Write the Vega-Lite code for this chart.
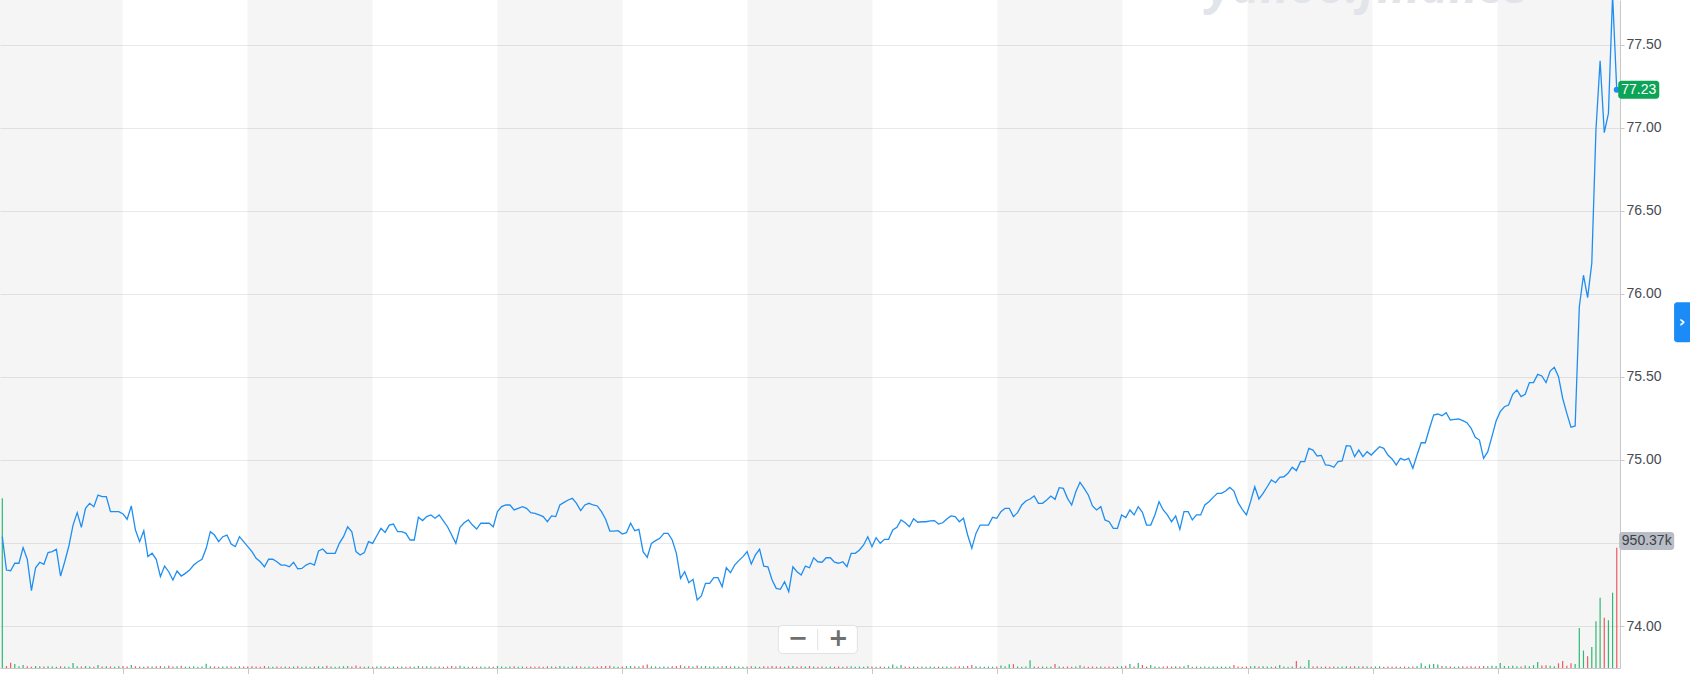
{
  "$schema": "https://vega.github.io/schema/vega-lite/v6.json",
  "width": 1620,
  "height": 668,
  "autosize": {"type": "none"},
  "padding": {"left": 0, "top": 0, "right": 70, "bottom": 6},
  "background": "white",
  "config": {"view": {"stroke": null}, "font": "Liberation Sans"},
  "datasets": {
    "bands": [
      {"a": -0.553, "b": 28.89}, {"a": 58.93, "b": 88.97}, {"a": 119.01, "b": 149.05},
      {"a": 179.09, "b": 209.13}, {"a": 239.17, "b": 269.21}, {"a": 299.26, "b": 329.30},
      {"a": 359.34, "b": 388.78}
    ],
    "px": [
      {"i":0,"p":74.538,"v":1340,"u":1},{"i":1,"p":74.337,"v":16,"u":0},{"i":2,"p":74.333,"v":42,"u":0},{"i":3,"p":74.378,"v":32,"u":1},{"i":4,"p":74.378,"v":14,"u":1},
      {"i":5,"p":74.472,"v":24,"u":1},{"i":6,"p":74.402,"v":14,"u":0},{"i":7,"p":74.213,"v":10,"u":0},{"i":8,"p":74.351,"v":16,"u":1},{"i":9,"p":74.384,"v":14,"u":1},
      {"i":10,"p":74.372,"v":12,"u":0},{"i":11,"p":74.442,"v":14,"u":1},{"i":12,"p":74.448,"v":12,"u":1},{"i":13,"p":74.462,"v":10,"u":1},{"i":14,"p":74.301,"v":14,"u":0},
      {"i":15,"p":74.387,"v":12,"u":1},{"i":16,"p":74.482,"v":10,"u":1},{"i":17,"p":74.608,"v":40,"u":1},{"i":18,"p":74.683,"v":14,"u":1},{"i":19,"p":74.594,"v":12,"u":0},
      {"i":20,"p":74.709,"v":16,"u":1},{"i":21,"p":74.739,"v":12,"u":1},{"i":22,"p":74.719,"v":10,"u":0},{"i":23,"p":74.789,"v":24,"u":1},{"i":24,"p":74.779,"v":12,"u":0},
      {"i":25,"p":74.779,"v":14,"u":1},{"i":26,"p":74.689,"v":12,"u":0},{"i":27,"p":74.689,"v":10,"u":1},{"i":28,"p":74.689,"v":14,"u":1},{"i":29,"p":74.675,"v":16,"u":0},
      {"i":30,"p":74.643,"v":12,"u":0},{"i":31,"p":74.723,"v":24,"u":1},{"i":32,"p":74.578,"v":14,"u":0},{"i":33,"p":74.508,"v":12,"u":0},{"i":34,"p":74.574,"v":10,"u":1},
      {"i":35,"p":74.418,"v":14,"u":0},{"i":36,"p":74.438,"v":12,"u":1},{"i":37,"p":74.402,"v":14,"u":0},{"i":38,"p":74.297,"v":16,"u":0},{"i":39,"p":74.361,"v":12,"u":1},
      {"i":40,"p":74.327,"v":18,"u":0},{"i":41,"p":74.277,"v":12,"u":0},{"i":42,"p":74.331,"v":14,"u":1},{"i":43,"p":74.301,"v":18,"u":0},{"i":44,"p":74.317,"v":10,"u":1},
      {"i":45,"p":74.337,"v":12,"u":1},{"i":46,"p":74.367,"v":14,"u":1},{"i":47,"p":74.387,"v":10,"u":1},{"i":48,"p":74.402,"v":12,"u":1},{"i":49,"p":74.468,"v":34,"u":1},
      {"i":50,"p":74.568,"v":14,"u":1},{"i":51,"p":74.548,"v":12,"u":0},{"i":52,"p":74.508,"v":10,"u":0},{"i":53,"p":74.538,"v":12,"u":1},{"i":54,"p":74.548,"v":14,"u":1},
      {"i":55,"p":74.494,"v":12,"u":0},{"i":56,"p":74.478,"v":10,"u":0},{"i":57,"p":74.538,"v":14,"u":1},{"i":58,"p":74.508,"v":12,"u":0},{"i":59,"p":74.478,"v":12,"u":0},
      {"i":60,"p":74.448,"v":14,"u":0},{"i":61,"p":74.408,"v":12,"u":0},{"i":62,"p":74.387,"v":10,"u":0},{"i":63,"p":74.357,"v":16,"u":0},{"i":64,"p":74.402,"v":12,"u":1},
      {"i":65,"p":74.402,"v":10,"u":1},{"i":66,"p":74.387,"v":12,"u":0},{"i":67,"p":74.367,"v":10,"u":0},{"i":68,"p":74.367,"v":12,"u":1},{"i":69,"p":74.357,"v":10,"u":0},
      {"i":70,"p":74.384,"v":12,"u":1},{"i":71,"p":74.345,"v":14,"u":0},{"i":72,"p":74.347,"v":10,"u":1},{"i":73,"p":74.367,"v":12,"u":1},{"i":74,"p":74.378,"v":10,"u":1},
      {"i":75,"p":74.367,"v":12,"u":0},{"i":76,"p":74.452,"v":14,"u":1},{"i":77,"p":74.464,"v":12,"u":1},{"i":78,"p":74.438,"v":18,"u":0},{"i":79,"p":74.438,"v":12,"u":1},
      {"i":80,"p":74.438,"v":10,"u":1},{"i":81,"p":74.498,"v":12,"u":1},{"i":82,"p":74.538,"v":14,"u":1},{"i":83,"p":74.598,"v":16,"u":1},{"i":84,"p":74.568,"v":12,"u":0},
      {"i":85,"p":74.448,"v":20,"u":0},{"i":86,"p":74.428,"v":12,"u":0},{"i":87,"p":74.442,"v":10,"u":1},{"i":88,"p":74.508,"v":12,"u":1},{"i":89,"p":74.498,"v":10,"u":0},
      {"i":90,"p":74.544,"v":12,"u":1},{"i":91,"p":74.588,"v":14,"u":1},{"i":92,"p":74.564,"v":12,"u":0},{"i":93,"p":74.608,"v":10,"u":1},{"i":94,"p":74.614,"v":12,"u":1},
      {"i":95,"p":74.568,"v":10,"u":0},{"i":96,"p":74.568,"v":12,"u":1},{"i":97,"p":74.558,"v":10,"u":0},{"i":98,"p":74.518,"v":12,"u":0},{"i":99,"p":74.518,"v":10,"u":1},
      {"i":100,"p":74.655,"v":16,"u":1},{"i":101,"p":74.635,"v":12,"u":0},{"i":102,"p":74.659,"v":14,"u":1},{"i":103,"p":74.669,"v":12,"u":1},{"i":104,"p":74.649,"v":10,"u":0},
      {"i":105,"p":74.669,"v":12,"u":1},{"i":106,"p":74.633,"v":10,"u":0},{"i":107,"p":74.598,"v":12,"u":0},{"i":108,"p":74.548,"v":16,"u":0},{"i":109,"p":74.498,"v":12,"u":0},
      {"i":110,"p":74.594,"v":18,"u":1},{"i":111,"p":74.622,"v":12,"u":1},{"i":112,"p":74.639,"v":10,"u":1},{"i":113,"p":74.608,"v":12,"u":0},{"i":114,"p":74.584,"v":10,"u":0},
      {"i":115,"p":74.619,"v":12,"u":1},{"i":116,"p":74.619,"v":10,"u":1},{"i":117,"p":74.619,"v":12,"u":1},{"i":118,"p":74.598,"v":10,"u":0},{"i":119,"p":74.689,"v":16,"u":1},
      {"i":120,"p":74.719,"v":12,"u":1},{"i":121,"p":74.729,"v":10,"u":1},{"i":122,"p":74.729,"v":12,"u":1},{"i":123,"p":74.699,"v":14,"u":0},{"i":124,"p":74.709,"v":10,"u":1},
      {"i":125,"p":74.719,"v":12,"u":1},{"i":126,"p":74.709,"v":10,"u":0},{"i":127,"p":74.683,"v":12,"u":0},{"i":128,"p":74.679,"v":10,"u":0},{"i":129,"p":74.669,"v":12,"u":0},
      {"i":130,"p":74.659,"v":10,"u":0},{"i":131,"p":74.628,"v":14,"u":0},{"i":132,"p":74.663,"v":12,"u":1},{"i":133,"p":74.659,"v":10,"u":0},{"i":134,"p":74.729,"v":16,"u":1},
      {"i":135,"p":74.745,"v":12,"u":1},{"i":136,"p":74.759,"v":10,"u":1},{"i":137,"p":74.769,"v":12,"u":1},{"i":138,"p":74.739,"v":14,"u":0},{"i":139,"p":74.695,"v":12,"u":0},
      {"i":140,"p":74.729,"v":10,"u":1},{"i":141,"p":74.739,"v":12,"u":1},{"i":142,"p":74.729,"v":10,"u":0},{"i":143,"p":74.723,"v":12,"u":0},{"i":144,"p":74.689,"v":14,"u":0},
      {"i":145,"p":74.643,"v":16,"u":0},{"i":146,"p":74.572,"v":18,"u":0},{"i":147,"p":74.572,"v":12,"u":1},{"i":148,"p":74.574,"v":10,"u":1},{"i":149,"p":74.554,"v":12,"u":0},
      {"i":150,"p":74.562,"v":14,"u":1},{"i":151,"p":74.619,"v":16,"u":1},{"i":152,"p":74.574,"v":14,"u":0},{"i":153,"p":74.582,"v":12,"u":1},{"i":154,"p":74.448,"v":20,"u":0},
      {"i":155,"p":74.414,"v":28,"u":0},{"i":156,"p":74.498,"v":14,"u":1},{"i":157,"p":74.514,"v":12,"u":1},{"i":158,"p":74.528,"v":10,"u":1},{"i":159,"p":74.558,"v":12,"u":1},
      {"i":160,"p":74.558,"v":10,"u":1},{"i":161,"p":74.518,"v":14,"u":0},{"i":162,"p":74.438,"v":16,"u":0},{"i":163,"p":74.287,"v":22,"u":0},{"i":164,"p":74.327,"v":14,"u":1},
      {"i":165,"p":74.261,"v":16,"u":0},{"i":166,"p":74.281,"v":12,"u":1},{"i":167,"p":74.157,"v":20,"u":0},{"i":168,"p":74.181,"v":14,"u":1},{"i":169,"p":74.257,"v":16,"u":1},
      {"i":170,"p":74.257,"v":12,"u":1},{"i":171,"p":74.291,"v":14,"u":1},{"i":172,"p":74.291,"v":12,"u":1},{"i":173,"p":74.237,"v":14,"u":0},{"i":174,"p":74.351,"v":16,"u":1},
      {"i":175,"p":74.321,"v":12,"u":0},{"i":176,"p":74.367,"v":14,"u":1},{"i":177,"p":74.394,"v":12,"u":1},{"i":178,"p":74.418,"v":10,"u":1},{"i":179,"p":74.448,"v":12,"u":1},
      {"i":180,"p":74.373,"v":14,"u":0},{"i":181,"p":74.428,"v":12,"u":1},{"i":182,"p":74.462,"v":10,"u":1},{"i":183,"p":74.361,"v":14,"u":0},{"i":184,"p":74.357,"v":12,"u":0},
      {"i":185,"p":74.277,"v":16,"u":0},{"i":186,"p":74.227,"v":14,"u":0},{"i":187,"p":74.221,"v":12,"u":0},{"i":188,"p":74.267,"v":10,"u":1},{"i":189,"p":74.207,"v":14,"u":0},
      {"i":190,"p":74.357,"v":16,"u":1},{"i":191,"p":74.327,"v":12,"u":0},{"i":192,"p":74.307,"v":14,"u":0},{"i":193,"p":74.361,"v":12,"u":1},{"i":194,"p":74.351,"v":16,"u":0},
      {"i":195,"p":74.411,"v":12,"u":1},{"i":196,"p":74.387,"v":10,"u":0},{"i":197,"p":74.384,"v":12,"u":0},{"i":198,"p":74.411,"v":10,"u":1},{"i":199,"p":74.411,"v":12,"u":1},
      {"i":200,"p":74.384,"v":10,"u":0},{"i":201,"p":74.378,"v":12,"u":0},{"i":202,"p":74.387,"v":10,"u":1},{"i":203,"p":74.357,"v":12,"u":0},{"i":204,"p":74.438,"v":14,"u":1},
      {"i":205,"p":74.438,"v":10,"u":1},{"i":206,"p":74.458,"v":12,"u":1},{"i":207,"p":74.488,"v":10,"u":1},{"i":208,"p":74.538,"v":14,"u":1},{"i":209,"p":74.478,"v":12,"u":0},
      {"i":210,"p":74.532,"v":10,"u":1},{"i":211,"p":74.498,"v":12,"u":0},{"i":212,"p":74.522,"v":10,"u":1},{"i":213,"p":74.522,"v":12,"u":1},{"i":214,"p":74.578,"v":28,"u":1},
      {"i":215,"p":74.594,"v":12,"u":1},{"i":216,"p":74.639,"v":24,"u":1},{"i":217,"p":74.622,"v":12,"u":0},{"i":218,"p":74.598,"v":10,"u":0},{"i":219,"p":74.646,"v":12,"u":1},
      {"i":220,"p":74.625,"v":10,"u":0},{"i":221,"p":74.628,"v":12,"u":1},{"i":222,"p":74.628,"v":10,"u":1},{"i":223,"p":74.633,"v":12,"u":1},{"i":224,"p":74.635,"v":10,"u":1},
      {"i":225,"p":74.614,"v":12,"u":0},{"i":226,"p":74.622,"v":10,"u":1},{"i":227,"p":74.645,"v":12,"u":1},{"i":228,"p":74.663,"v":10,"u":1},{"i":229,"p":74.659,"v":12,"u":0},
      {"i":230,"p":74.628,"v":14,"u":0},{"i":231,"p":74.649,"v":12,"u":1},{"i":232,"p":74.548,"v":16,"u":0},{"i":233,"p":74.468,"v":24,"u":0},{"i":234,"p":74.558,"v":14,"u":1},
      {"i":235,"p":74.608,"v":12,"u":1},{"i":236,"p":74.608,"v":10,"u":1},{"i":237,"p":74.608,"v":12,"u":1},{"i":238,"p":74.655,"v":10,"u":1},{"i":239,"p":74.649,"v":12,"u":0},
      {"i":240,"p":74.689,"v":20,"u":1},{"i":241,"p":74.709,"v":14,"u":1},{"i":242,"p":74.709,"v":30,"u":1},{"i":243,"p":74.659,"v":30,"u":0},{"i":244,"p":74.683,"v":12,"u":1},
      {"i":245,"p":74.729,"v":10,"u":1},{"i":246,"p":74.753,"v":12,"u":1},{"i":247,"p":74.765,"v":62,"u":1},{"i":248,"p":74.783,"v":12,"u":1},{"i":249,"p":74.739,"v":10,"u":0},
      {"i":250,"p":74.739,"v":12,"u":1},{"i":251,"p":74.759,"v":10,"u":1},{"i":252,"p":74.783,"v":12,"u":1},{"i":253,"p":74.763,"v":32,"u":0},{"i":254,"p":74.833,"v":12,"u":1},
      {"i":255,"p":74.829,"v":10,"u":0},{"i":256,"p":74.769,"v":12,"u":0},{"i":257,"p":74.729,"v":10,"u":0},{"i":258,"p":74.809,"v":12,"u":1},{"i":259,"p":74.866,"v":22,"u":1},
      {"i":260,"p":74.829,"v":12,"u":0},{"i":261,"p":74.789,"v":10,"u":0},{"i":262,"p":74.723,"v":12,"u":0},{"i":263,"p":74.699,"v":10,"u":0},{"i":264,"p":74.719,"v":12,"u":1},
      {"i":265,"p":74.639,"v":10,"u":0},{"i":266,"p":74.628,"v":12,"u":0},{"i":267,"p":74.588,"v":10,"u":0},{"i":268,"p":74.588,"v":12,"u":1},{"i":269,"p":74.669,"v":14,"u":1},
      {"i":270,"p":74.653,"v":18,"u":0},{"i":271,"p":74.699,"v":32,"u":1},{"i":272,"p":74.669,"v":12,"u":0},{"i":273,"p":74.719,"v":40,"u":1},{"i":274,"p":74.685,"v":24,"u":0},
      {"i":275,"p":74.608,"v":12,"u":0},{"i":276,"p":74.608,"v":24,"u":1},{"i":277,"p":74.669,"v":12,"u":1},{"i":278,"p":74.749,"v":10,"u":1},{"i":279,"p":74.699,"v":12,"u":0},
      {"i":280,"p":74.669,"v":14,"u":0},{"i":281,"p":74.628,"v":12,"u":0},{"i":282,"p":74.663,"v":14,"u":1},{"i":283,"p":74.582,"v":12,"u":0},{"i":284,"p":74.689,"v":14,"u":1},
      {"i":285,"p":74.689,"v":24,"u":1},{"i":286,"p":74.639,"v":10,"u":0},{"i":287,"p":74.669,"v":12,"u":1},{"i":288,"p":74.669,"v":10,"u":1},{"i":289,"p":74.729,"v":12,"u":1},
      {"i":290,"p":74.749,"v":10,"u":1},{"i":291,"p":74.775,"v":12,"u":1},{"i":292,"p":74.799,"v":10,"u":1},{"i":293,"p":74.799,"v":12,"u":1},{"i":294,"p":74.813,"v":10,"u":1},
      {"i":295,"p":74.835,"v":12,"u":1},{"i":296,"p":74.813,"v":24,"u":0},{"i":297,"p":74.743,"v":12,"u":0},{"i":298,"p":74.703,"v":10,"u":0},{"i":299,"p":74.669,"v":12,"u":0},
      {"i":300,"p":74.749,"v":14,"u":1},{"i":301,"p":74.839,"v":16,"u":1},{"i":302,"p":74.765,"v":12,"u":0},{"i":303,"p":74.799,"v":14,"u":1},{"i":304,"p":74.839,"v":12,"u":1},
      {"i":305,"p":74.880,"v":10,"u":1},{"i":306,"p":74.863,"v":12,"u":0},{"i":307,"p":74.896,"v":24,"u":1},{"i":308,"p":74.899,"v":12,"u":1},{"i":309,"p":74.920,"v":10,"u":1},
      {"i":310,"p":74.956,"v":12,"u":1},{"i":311,"p":74.936,"v":56,"u":0},{"i":312,"p":74.990,"v":12,"u":1},{"i":313,"p":74.990,"v":10,"u":1},{"i":314,"p":75.070,"v":64,"u":1},
      {"i":315,"p":75.060,"v":12,"u":0},{"i":316,"p":75.024,"v":14,"u":0},{"i":317,"p":75.028,"v":10,"u":1},{"i":318,"p":74.970,"v":12,"u":0},{"i":319,"p":74.968,"v":10,"u":0},
      {"i":320,"p":74.956,"v":12,"u":0},{"i":321,"p":74.990,"v":10,"u":1},{"i":322,"p":74.994,"v":12,"u":1},{"i":323,"p":75.086,"v":14,"u":1},{"i":324,"p":75.084,"v":12,"u":0},
      {"i":325,"p":75.020,"v":14,"u":0},{"i":326,"p":75.060,"v":12,"u":1},{"i":327,"p":75.020,"v":14,"u":0},{"i":328,"p":75.050,"v":12,"u":1},{"i":329,"p":75.030,"v":10,"u":0},
      {"i":330,"p":75.056,"v":12,"u":1},{"i":331,"p":75.080,"v":14,"u":1},{"i":332,"p":75.070,"v":10,"u":0},{"i":333,"p":75.030,"v":12,"u":0},{"i":334,"p":75.006,"v":10,"u":0},
      {"i":335,"p":74.970,"v":12,"u":0},{"i":336,"p":75.010,"v":10,"u":1},{"i":337,"p":75.000,"v":12,"u":0},{"i":338,"p":75.010,"v":10,"u":1},{"i":339,"p":74.950,"v":12,"u":0},
      {"i":340,"p":75.030,"v":14,"u":1},{"i":341,"p":75.104,"v":37,"u":1},{"i":342,"p":75.104,"v":16,"u":1},{"i":343,"p":75.191,"v":28,"u":1},{"i":344,"p":75.271,"v":32,"u":1},
      {"i":345,"p":75.277,"v":28,"u":1},{"i":346,"p":75.267,"v":16,"u":0},{"i":347,"p":75.285,"v":14,"u":1},{"i":348,"p":75.241,"v":12,"u":0},{"i":349,"p":75.245,"v":10,"u":1},
      {"i":350,"p":75.247,"v":12,"u":1},{"i":351,"p":75.237,"v":14,"u":0},{"i":352,"p":75.225,"v":12,"u":0},{"i":353,"p":75.191,"v":14,"u":0},{"i":354,"p":75.137,"v":12,"u":0},
      {"i":355,"p":75.120,"v":14,"u":0},{"i":356,"p":75.010,"v":16,"u":0},{"i":357,"p":75.050,"v":14,"u":1},{"i":358,"p":75.141,"v":18,"u":1},{"i":359,"p":75.235,"v":16,"u":1},
      {"i":360,"p":75.291,"v":40,"u":1},{"i":361,"p":75.321,"v":16,"u":1},{"i":362,"p":75.331,"v":14,"u":1},{"i":363,"p":75.396,"v":18,"u":1},{"i":364,"p":75.422,"v":14,"u":1},
      {"i":365,"p":75.382,"v":12,"u":0},{"i":366,"p":75.396,"v":20,"u":1},{"i":367,"p":75.466,"v":14,"u":1},{"i":368,"p":75.466,"v":22,"u":1},{"i":369,"p":75.516,"v":48,"u":1},
      {"i":370,"p":75.506,"v":20,"u":0},{"i":371,"p":75.466,"v":22,"u":0},{"i":372,"p":75.536,"v":18,"u":1},{"i":373,"p":75.558,"v":14,"u":1},{"i":374,"p":75.502,"v":37,"u":0},
      {"i":375,"p":75.372,"v":56,"u":0},{"i":376,"p":75.281,"v":18,"u":0},{"i":377,"p":75.197,"v":37,"u":0},{"i":378,"p":75.205,"v":32,"u":1},{"i":379,"p":75.923,"v":316,"u":1},
      {"i":380,"p":76.113,"v":138,"u":1},{"i":381,"p":75.978,"v":93,"u":0},{"i":382,"p":76.185,"v":165,"u":1},{"i":383,"p":76.988,"v":369,"u":1},{"i":384,"p":77.405,"v":555,"u":1},
      {"i":385,"p":76.972,"v":396,"u":0},{"i":386,"p":77.088,"v":377,"u":1},{"i":387,"p":77.800,"v":595,"u":1},{"i":388,"p":77.230,"v":950.37,"u":0}
    ]
  },
  "resolve": {"scale": {"y": "independent"}, "axis": {"y": "independent"}},
  "layer": [
    {
      "data": {"name": "bands"},
      "mark": {"type": "rect", "fill": "#000000", "fillOpacity": 0.04},
      "encoding": {
        "x": {"field": "a", "type": "quantitative", "title": null, "scale": {"domain": [-0.553, 388.78], "nice": false, "zero": false, "padding": 0},
              "axis": {"orient": "bottom", "values": [28.89, 58.93, 88.97, 119.01, 149.05, 179.09, 209.13, 239.17, 269.21, 299.26, 329.30, 359.34],
                       "labels": false, "grid": false, "domain": true, "domainColor": "#c8c8c8", "ticks": true, "tickSize": 6, "tickColor": "#c8c8c8", "title": null}},
        "x2": {"field": "b"}
      }
    },
    {
      "data": {"name": "px"},
      "mark": {"type": "bar", "orient": "vertical", "width": 1.2},
      "encoding": {
        "x": {"field": "i", "type": "quantitative", "title": null, "scale": {"domain": [-0.553, 388.78], "nice": false, "zero": false, "padding": 0},
              "axis": {"orient": "bottom", "values": [28.89, 58.93, 88.97, 119.01, 149.05, 179.09, 209.13, 239.17, 269.21, 299.26, 329.30, 359.34],
                       "labels": false, "grid": false, "domain": true, "domainColor": "#c8c8c8", "ticks": true, "tickSize": 6, "tickColor": "#c8c8c8", "title": null}},
        "y": {"field": "v", "type": "quantitative", "scale": {"domain": [0, 5277], "nice": false, "zero": true}, "axis": null},
        "color": {"field": "u", "type": "nominal", "scale": {"domain": [0, 1], "range": ["#f0595e", "#2fb872"]}, "legend": null}
      }
    },
    {
      "data": {"name": "px"},
      "encoding": {
        "x": {"field": "i", "type": "quantitative", "title": null, "scale": {"domain": [-0.553, 388.78], "nice": false, "zero": false, "padding": 0},
              "axis": {"orient": "bottom", "values": [28.89, 58.93, 88.97, 119.01, 149.05, 179.09, 209.13, 239.17, 269.21, 299.26, 329.30, 359.34],
                       "labels": false, "grid": false, "domain": true, "domainColor": "#c8c8c8", "ticks": true, "tickSize": 6, "tickColor": "#c8c8c8", "title": null}},
        "y": {"field": "p", "type": "quantitative", "title": null, "scale": {"domain": [73.747, 77.771], "nice": false, "zero": false},
              "axis": {"orient": "right", "values": [74, 74.5, 75, 75.5, 76, 76.5, 77, 77.5], "format": ".2f",
                       "labelExpr": "datum.value == 74.5 ? '' : datum.label",
                       "grid": true, "gridColor": "#e9e9e9", "gridWidth": 1, "domain": true, "domainColor": "#c8c8c8",
                       "ticks": true, "tickSize": 4, "tickColor": "#c8c8c8", "labelFontSize": 14, "labelColor": "#474b52",
                       "labelPadding": 2, "labelFont": "Liberation Sans", "title": null}}
      },
      "layer": [
        {"mark": {"type": "line", "color": "#1f8ef1", "strokeWidth": 1.3, "clip": true}},
        {
          "transform": [{"filter": "datum.i == 388"}],
          "mark": {"type": "point", "filled": true, "size": 36, "color": "#1f8ef1", "opacity": 1}
        },
        {
          "transform": [{"filter": "datum.i == 388"}],
          "mark": {"type": "rect", "width": 41, "height": 18, "fill": "#0ca456", "cornerRadius": 3, "xOffset": 22}
        },
        {
          "transform": [{"filter": "datum.i == 388"}],
          "mark": {"type": "text", "fontSize": 14, "color": "white", "font": "Liberation Sans", "align": "center", "baseline": "middle", "xOffset": 22},
          "encoding": {"text": {"field": "p", "type": "quantitative", "format": ".2f"}}
        }
      ]
    },
    {
      "data": {"values": [
        {"t": "yahoo!finance", "x": 289.5, "y": 77.752, "k": "wm"},
        {"t": "950.37k", "x": 395.2, "y": 74.512, "k": "vol"},
        {"t": "›", "x": 403.7, "y": 75.83, "k": "btn"},
        {"t": "−", "x": 191.2, "y": 73.919, "k": "zm"},
        {"t": "+", "x": 200.9, "y": 73.919, "k": "zm"}
      ]},
      "encoding": {
        "x": {"field": "x", "type": "quantitative", "title": null, "scale": {"domain": [-0.553, 388.78], "nice": false, "zero": false, "padding": 0},
              "axis": {"orient": "bottom", "values": [28.89, 58.93, 88.97, 119.01, 149.05, 179.09, 209.13, 239.17, 269.21, 299.26, 329.30, 359.34],
                       "labels": false, "grid": false, "domain": true, "domainColor": "#c8c8c8", "ticks": true, "tickSize": 6, "tickColor": "#c8c8c8", "title": null}},
        "y": {"field": "y", "type": "quantitative", "title": null, "scale": {"domain": [73.747, 77.771], "nice": false, "zero": false}, "axis": null}
      },
      "layer": [
        {
          "transform": [{"filter": "datum.k == 'wm'"}],
          "mark": {"type": "text", "align": "left", "baseline": "alphabetic", "fontSize": 48, "fontWeight": "bold", "fontStyle": "italic", "font": "Open Sans", "color": "#e1e4e9", "clip": true},
          "encoding": {"text": {"field": "t"}}
        },
        {
          "transform": [{"filter": "datum.k == 'vol'"}],
          "mark": {"type": "rect", "width": 55, "height": 18, "fill": "#b9bdc5", "cornerRadius": 3}
        },
        {
          "transform": [{"filter": "datum.k == 'vol'"}],
          "mark": {"type": "text", "fontSize": 14, "color": "#3d4047", "font": "Liberation Sans", "align": "center", "baseline": "middle"},
          "encoding": {"text": {"field": "t"}}
        },
        {
          "transform": [{"filter": "datum.k == 'btn'"}],
          "mark": {"type": "rect", "width": 18, "height": 40, "fill": "#1b8cf7", "cornerRadius": 3, "xOffset": 1}
        },
        {
          "transform": [{"filter": "datum.k == 'btn'"}],
          "mark": {"type": "text", "fontSize": 16, "fontWeight": "bold", "color": "white", "font": "DejaVu Sans", "align": "center", "baseline": "middle"},
          "encoding": {"text": {"field": "t"}}
        },
        {
          "data": {"values": [{"x": 196.0, "y": 73.919}]},
          "mark": {"type": "rect", "width": 79, "height": 28, "fill": "white", "stroke": "#e2e2e2", "strokeWidth": 1, "cornerRadius": 4}
        },
        {
          "data": {"values": [{"x": 195.96, "y": 73.982, "y2": 73.855}]},
          "mark": {"type": "rule", "color": "#e2e2e2", "strokeWidth": 1},
          "encoding": {"y2": {"field": "y2"}}
        },
        {
          "transform": [{"filter": "datum.k == 'zm'"}],
          "mark": {"type": "text", "fontSize": 24, "fontWeight": "bold", "color": "#6f6f6f", "font": "DejaVu Sans", "align": "center", "baseline": "middle"},
          "encoding": {"text": {"field": "t"}}
        }
      ]
    }
  ]
}
